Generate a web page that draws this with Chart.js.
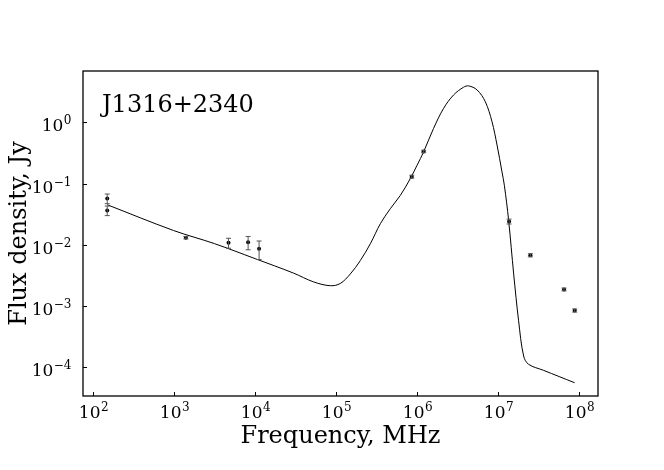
<!DOCTYPE html>
<html>
<head>
<meta charset="utf-8">
<script src="https://cdn.jsdelivr.net/npm/chart.js@4"></script>
<style>
  html, body { margin: 0; padding: 0; background: #fff; }
  #wrap { width: 664px; height: 470px; }
</style>
</head>
<body>
<div id="wrap"><canvas id="sed" width="664" height="470"></canvas></div>
<script>
'use strict';
// model curve (MHz, Jy)
var freqCurve = [149, 986, 3162, 10000, 29850, 52720, 84720, 112500, 149600, 198600, 263600,
  350800, 465600, 619400, 822200, 995400, 1.2e6, 1.592e6, 2.118e6, 2.812e6, 3.733e6, 4.305e6,
  5.47e6, 6.918e6, 8.375e6, 9.66e6, 1.112e7, 1.189e7, 1.343e7, 1.549e7, 1.782e7, 2.056e7,
  2.366e7, 3.631e7, 8.75e7];
var fluxCurve = [0.0453, 0.01714, 0.01045, 0.00595, 0.00345, 0.00248, 0.00215, 0.00234, 0.00335,
  0.00553, 0.01038, 0.0221, 0.0389, 0.0643, 0.1208, 0.1995, 0.33, 0.798, 1.698, 2.805, 3.75, 3.94,
  3.39, 2.178, 1.023, 0.425, 0.155, 0.0938, 0.025, 0.00335, 0.000574, 0.000153, 0.000112,
  0.0000891, 0.000056];

// measurements
var freqObs = [150, 150, 1400, 4700, 8200, 11200, 857000, 1.2e6, 1.36e7, 2.49e7, 6.48e7, 8.77e7];
var fluxObs = [0.0573, 0.0365, 0.0131, 0.0108, 0.011, 0.00865, 0.130, 0.335, 0.0241, 0.00676, 0.00187, 0.000847];
var errObs = [0.0103, 0.0065, 0.0006, 0.002, 0.0027, 0.0029, 0.007, 0.015, 0.0022, 0.0004, 0.0001, 0.00005];

var xTicks = [1e2, 1e3, 1e4, 1e5, 1e6, 1e7, 1e8];
var yTicks = [1e-4, 1e-3, 1e-2, 1e-1, 1e0];
var sourceName = 'J1316+2340';
var xTitle = 'Frequency, MHz';
var yTitle = 'Flux density, Jy';

var SERIF = '"DejaVu Serif", "Liberation Serif", serif';

function expText(v) {
  var e = Math.round(Math.log10(v));
  return e < 0 ? '\u2212' + (-e) : String(e);
}

function drawPow(ctx, x, y, v, align) {
  var base = '10', sup = expText(v);
  ctx.font = '17px ' + SERIF;
  var w1 = ctx.measureText(base).width;
  ctx.font = '12px ' + SERIF;
  var w2 = ctx.measureText(sup).width;
  var x0 = align === 'right' ? x - w1 - w2 : x - (w1 + w2) / 2;
  ctx.textAlign = 'left';
  ctx.textBaseline = 'alphabetic';
  ctx.font = '17px ' + SERIF;
  ctx.fillText(base, x0, y);
  ctx.font = '12px ' + SERIF;
  ctx.fillText(sup, x0 + w1 + 0.5, y - 7);
}

var errorBars = {
  id: 'errorBars',
  afterDatasetsDraw: function(chart) {
    var ctx = chart.ctx, xs = chart.scales.x, ys = chart.scales.y;
    ctx.save();
    ctx.strokeStyle = '#555';
    ctx.lineWidth = 1;
    for (var i = 0; i < freqObs.length; i++) {
      var px = xs.getPixelForValue(freqObs[i]);
      var top = ys.getPixelForValue(fluxObs[i] + errObs[i]);
      var bot = ys.getPixelForValue(fluxObs[i] - errObs[i]);
      ctx.beginPath();
      ctx.moveTo(px, top); ctx.lineTo(px, bot);
      ctx.moveTo(px - 2.5, top); ctx.lineTo(px + 2.5, top);
      ctx.moveTo(px - 2.5, bot); ctx.lineTo(px + 2.5, bot);
      ctx.stroke();
    }
    ctx.restore();
  }
};

var frame = {
  id: 'frame',
  afterDraw: function(chart) {
    var ctx = chart.ctx, a = chart.chartArea;
    var xs = chart.scales.x, ys = chart.scales.y;
    ctx.save();
    ctx.strokeStyle = '#000';
    ctx.lineWidth = 1.3;
    ctx.strokeRect(a.left, a.top, a.right - a.left, a.bottom - a.top);
    ctx.lineWidth = 1;
    ctx.fillStyle = '#000';
    xTicks.forEach(function(t) {
      var px = Math.round(xs.getPixelForValue(t)) + 0.5;
      ctx.beginPath();
      ctx.moveTo(px, a.bottom); ctx.lineTo(px, a.bottom - 4);
      ctx.stroke();
      drawPow(ctx, px, a.bottom + 22, t, 'center');
    });
    yTicks.forEach(function(t) {
      var py = Math.round(ys.getPixelForValue(t)) + 0.5;
      ctx.beginPath();
      ctx.moveTo(a.left, py); ctx.lineTo(a.left + 4, py);
      ctx.stroke();
      drawPow(ctx, a.left - 12, py + 8, t, 'right');
    });
    // label of the source
    ctx.font = '24px ' + SERIF;
    ctx.textAlign = 'left';
    ctx.textBaseline = 'alphabetic';
    ctx.fillText(sourceName, 102, 112);
    // axis titles
    ctx.textAlign = 'center';
    ctx.fillText(xTitle, (a.left + a.right) / 2, 443);
    ctx.save();
    ctx.translate(26, (a.top + a.bottom) / 2);
    ctx.rotate(-Math.PI / 2);
    ctx.fillText(yTitle, 0, 0);
    ctx.restore();
    ctx.restore();
  }
};

var curvePts = freqCurve.map(function(f, i) { return {x: f, y: fluxCurve[i]}; });
var obsPts = freqObs.map(function(f, i) { return {x: f, y: fluxObs[i]}; });

new Chart(document.getElementById('sed'), {
  type: 'scatter',
  data: {
    datasets: [
      {
        data: curvePts,
        showLine: true,
        borderColor: '#000',
        borderWidth: 1,
        pointRadius: 0,
        tension: 0.35
      },
      {
        data: obsPts,
        backgroundColor: '#000',
        borderColor: '#000',
        pointRadius: 2,
        pointBorderWidth: 0
      }
    ]
  },
  options: {
    responsive: false,
    animation: false,
    layout: { padding: { left: 83, right: 66, top: 71, bottom: 74 } },
    plugins: { legend: { display: false }, tooltip: { enabled: false } },
    scales: {
      x: {
        type: 'logarithmic',
        min: 75.3, max: 1.70e8,
        grid: { display: false, drawTicks: false },
        border: { display: false },
        ticks: { display: false }
      },
      y: {
        type: 'logarithmic',
        min: 3.4e-5, max: 6.9,
        grid: { display: false, drawTicks: false },
        border: { display: false },
        ticks: { display: false }
      }
    }
  },
  plugins: [errorBars, frame]
});
</script>
</body>
</html>
